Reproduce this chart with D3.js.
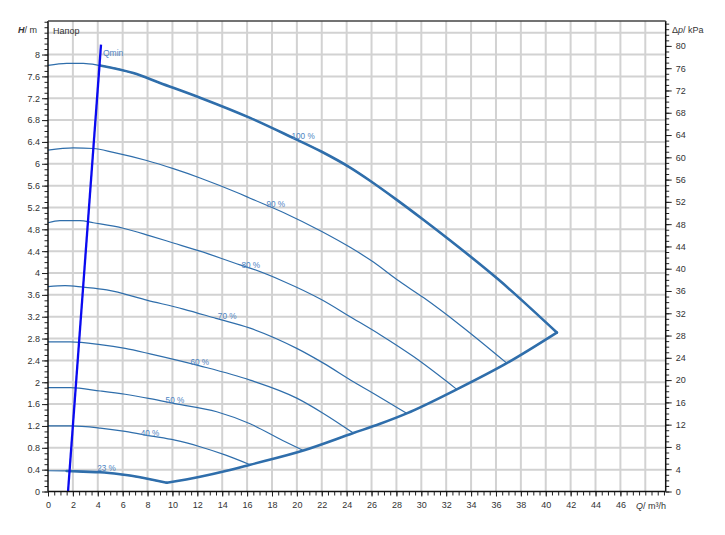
<!DOCTYPE html>
<html><head><meta charset="utf-8">
<script src="https://cdn.jsdelivr.net/npm/d3@7"></script>
<style>
body{margin:0;background:#fff}
text{font-family:"Liberation Sans",Arial,Helvetica,sans-serif}
</style>
</head><body>
<svg id="chart" width="725" height="535"></svg>
<script>
// ---------- data ----------
const hTicks = [0,0.4,0.8,1.2,1.6,2,2.4,2.8,3.2,3.6,4,4.4,4.8,5.2,5.6,6,6.4,6.8,7.2,7.6,8];
const kpaTicks = [0,4,8,12,16,20,24,28,32,36,40,44,48,52,56,60,64,68,72,76,80];
const qTicks = [0,2,4,6,8,10,12,14,16,18,20,22,24,26,28,30,32,34,36,38,40,42,44,46];

const curveNames = ["100 %","90 %","80 %","70 %","60 %","50 %","40 %","23 %"];

const q100 = [0,1.5,2.84,4.18,6.86,9.0,12.22,16.24,19.45,22.0,24.28,25.88,28.03,30.14,32.3,36.2,40.89];
const h100 = [7.80,7.84,7.84,7.80,7.66,7.48,7.21,6.84,6.50,6.22,5.93,5.69,5.34,4.98,4.60,3.88,2.91];

const q90 = [0,2.03,3.64,5.25,7.93,10.07,12.22,15.43,16.24,19.0,22.0,24.28,26.15,28.03,30.17,33.1,36.87];
const h90 = [6.25,6.29,6.28,6.21,6.06,5.91,5.74,5.45,5.37,5.10,4.76,4.47,4.20,3.88,3.55,3.05,2.35];

const q80 = [0,0.96,2.57,3.64,6.05,8.2,10.07,12.22,15.43,16.24,18.9,22.0,24.28,26.69,29.37,32.85];
const h80 = [4.92,4.96,4.96,4.92,4.82,4.68,4.55,4.40,4.15,4.09,3.85,3.51,3.20,2.87,2.47,1.87];

const q70 = [0,1.37,2.84,4.72,8.0,10.88,13.5,16.24,19.99,22.13,24.54,26.5,28.83];
const h70 = [3.75,3.77,3.74,3.69,3.50,3.34,3.17,2.99,2.62,2.35,2.01,1.75,1.43];

const q60 = [0,1.8,4.2,6.2,8.2,12.2,16.24,19.99,22.13,24.54];
const h60 = [2.74,2.74,2.69,2.62,2.52,2.30,2.04,1.71,1.43,1.07];

const q50 = [0,1.8,4.2,6.2,8.2,10.2,13.56,16.24,18.9,20.52];
const h50 = [1.90,1.90,1.84,1.78,1.70,1.61,1.46,1.24,0.93,0.75];

const q40 = [0,1.8,4.2,6.2,8.2,10.2,12.22,14.23,16.24];
const h40 = [1.20,1.20,1.16,1.10,1.02,0.94,0.82,0.67,0.49];

const q23 = [0,1.5,2.84,4.18,5.79,7.4,9.54];
const h23 = [0.38,0.376,0.363,0.352,0.315,0.26,0.16];

// lower limit curve (minimum speed / end of curves)
const qLow = [9.54,12.22,14.36,16.24,20.52,24.54,26.69,28.83,32.85,36.87,40.89];
const hLow = [0.16,0.27,0.38,0.49,0.75,1.07,1.24,1.43,1.87,2.35,2.91];

// Qmin line
const qMin = [1.61,4.26];
const hMin = [0,8.18];

// curve label anchor points (Q, H)
const labelQ = [20.5,18.3,16.3,14.4,12.2,10.2,8.2,4.7];
const labelH = [6.45,5.20,4.09,3.15,2.31,1.62,1.02,0.38];

// ---------- chart ----------
const svg = d3.select("#chart");
const L = 48, R = 665.7, B = 491.5, T = 21;
const qMax = 49.64, hMax = 8.614, kpaPerM = 9.80665;

const x = d3.scaleLinear().domain([0, qMax]).range([L, R]);
const y = d3.scaleLinear().domain([0, hMax]).range([B, T]);
const yk = d3.scaleLinear().domain([0, hMax * kpaPerM]).range([B, T]);

const curveCol = "#2f6eab";
const labelCol = "#4f84c2";
const gridCol = "#d2d2d2";

// grid
const g = svg.append("g");
g.selectAll(".vg").data(d3.range(1, 25).map(i => i * 2)).join("line")
  .attr("x1", d => x(d)).attr("x2", d => x(d)).attr("y1", B).attr("y2", T)
  .attr("stroke", gridCol).attr("stroke-width", 2);
g.selectAll(".hg").data(d3.range(1, 22).map(i => +(i * 0.4).toFixed(1))).join("line")
  .attr("x1", L).attr("x2", R).attr("y1", d => y(d)).attr("y2", d => y(d))
  .attr("stroke", gridCol).attr("stroke-width", 2);

const line = d3.line().x(d => x(d[0])).y(d => y(d[1])).curve(d3.curveMonotoneX);
const zip = (a, b) => a.map((v, i) => [v, b[i]]);

const curves = [[q100,h100],[q90,h90],[q80,h80],[q70,h70],[q60,h60],[q50,h50],[q40,h40],[q23,h23]];
svg.append("g").selectAll("path").data(curves).join("path")
  .attr("d", c => line(zip(c[0], c[1])))
  .attr("fill", "none").attr("stroke", curveCol).attr("stroke-width", 1.2);

// thick boundary of operating range
const p100 = zip(q100, h100).filter(d => d[0] >= 4.1);
const pLow = zip(qLow, hLow);
const p23 = zip(q23, h23).filter(d => d[0] >= 1.5);
svg.append("g").selectAll("path").data([p100, pLow, p23]).join("path")
  .attr("d", d => line(d))
  .attr("fill", "none").attr("stroke", curveCol).attr("stroke-width", 2.6)
  .attr("stroke-linecap", "round");

// Qmin
svg.append("path").attr("d", d3.line().x(d => x(d[0])).y(d => y(d[1]))(zip(qMin, hMin)))
  .attr("stroke", "#0a0af0").attr("stroke-width", 2.3).attr("fill", "none");
svg.append("text").attr("x", x(qMin[1]) + 2).attr("y", y(hMin[1]) + 11)
  .attr("font-size", 8.5).attr("fill", labelCol).text("Qmin");

// curve labels
svg.append("g").selectAll("text").data(curveNames).join("text")
  .attr("x", (d, i) => x(labelQ[i])).attr("y", (d, i) => y(labelH[i]))
  .attr("text-anchor", "middle").attr("font-size", 8.2).attr("fill", labelCol)
  .text(d => d);

// axes
const axCol = "#222";
function styleAxis(sel) {
  sel.select(".domain").remove();
  sel.selectAll(".tick line").attr("stroke", axCol).attr("stroke-width", 1);
  sel.selectAll("text").attr("font-size", 9).attr("fill", "#333")
    .attr("font-family", "'Liberation Sans',Arial,sans-serif");
}
// minor ticks
svg.append("g").attr("transform", `translate(${L},0)`)
  .call(d3.axisLeft(y).tickValues(d3.range(0, 87).map(i => i / 10)).tickSize(3.5).tickFormat(""))
  .call(styleAxis);
svg.append("g").attr("transform", `translate(${R},0)`)
  .call(d3.axisRight(yk).tickValues(d3.range(0, 85)).tickSize(3.5).tickFormat(""))
  .call(styleAxis);
svg.append("g").attr("transform", `translate(0,${B})`)
  .call(d3.axisBottom(x).tickValues(d3.range(0, 100).map(i => i / 2)).tickSize(4).tickFormat(""))
  .call(styleAxis);
// major ticks
svg.append("g").attr("transform", `translate(${L},0)`)
  .call(d3.axisLeft(y).tickValues(hTicks).tickSize(6).tickPadding(2).tickFormat(d => String(d)))
  .call(styleAxis);
svg.append("g").attr("transform", `translate(${R},0)`)
  .call(d3.axisRight(yk).tickValues(kpaTicks).tickSize(6).tickPadding(4).tickFormat(d => String(d)))
  .call(styleAxis);
svg.append("g").attr("transform", `translate(0,${B})`)
  .call(d3.axisBottom(x).tickValues(qTicks).tickSize(5).tickPadding(5).tickFormat(d => String(d)))
  .call(styleAxis);

// frame
svg.append("line").attr("x1", L).attr("x2", L).attr("y1", T).attr("y2", B).attr("stroke", "#111").attr("stroke-width", 1.5);
svg.append("line").attr("x1", R).attr("x2", R).attr("y1", T).attr("y2", B).attr("stroke", "#111").attr("stroke-width", 1.5);
svg.append("line").attr("x1", L).attr("x2", R).attr("y1", B).attr("y2", B).attr("stroke", "#111").attr("stroke-width", 1.5);
svg.append("line").attr("x1", L).attr("x2", R).attr("y1", T).attr("y2", T).attr("stroke", "#444").attr("stroke-width", 1.5);

// titles
const tH = svg.append("text").attr("x", 37).attr("y", 33).attr("text-anchor", "end").attr("font-size", 9).attr("fill", "#333");
tH.append("tspan").attr("font-weight", "bold").attr("font-style", "italic").text("H");
tH.append("tspan").text("/ m");
svg.append("text").attr("x", 53).attr("y", 34).attr("font-size", 9).attr("fill", "#333").text("Напор");

const tP = svg.append("text").attr("x", 672).attr("y", 33).attr("font-size", 9).attr("fill", "#333");
tP.append("tspan").text("Δ");
tP.append("tspan").attr("font-style", "italic").text("p");
tP.append("tspan").text("/ kPa");

const tQ = svg.append("text").attr("x", 636).attr("y", 508.5).attr("font-size", 9).attr("fill", "#333");
tQ.append("tspan").attr("font-style", "italic").text("Q");
tQ.append("tspan").text("/ m³/h");
</script>
</body></html>
